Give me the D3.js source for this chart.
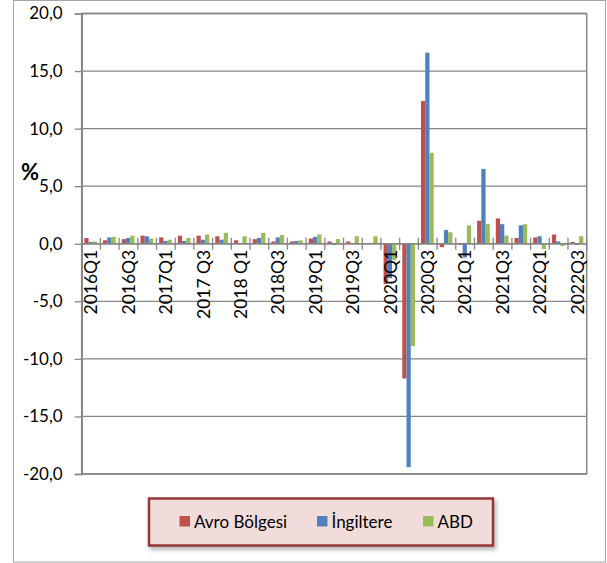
<!DOCTYPE html>
<html>
<head>
<meta charset="utf-8">
<script src="https://cdn.jsdelivr.net/npm/d3@7"></script>
<style>
  html, body { margin: 0; padding: 0; background: #fff; }
  svg { display: block; font-family: Lato, "Noto Sans", sans-serif; }
</style>
</head>
<body>
<svg id="chart" width="607" height="563"></svg>
<script>
// ---- data ----
const categories = ["2016Q1","2016Q2","2016Q3","2016Q4","2017Q1","2017Q2","2017 Q3","2017 Q4","2018 Q1","2018Q2","2018Q3","2018Q4","2019Q1","2019Q2","2019Q3","2019Q4","2020Q1","2020Q2","2020Q3","2020Q4","2021Q1","2021Q2","2021Q3","2021Q4","2022Q1","2022Q2","2022Q3"];
const tickLabels = ["2016Q1","2016Q3","2017Q1","2017 Q3","2018 Q1","2018Q3","2019Q1","2019Q3","2020Q1","2020Q3","2021Q1","2021Q3","2022Q1","2022Q3"];
const seriesNames = ["Avro Bölgesi","İngiltere","ABD"];
const avroBolgesi = [0.5,0.3,0.4,0.7,0.55,0.7,0.7,0.65,0.3,0.4,0.2,0.2,0.45,0.2,0.2,0.05,-3.5,-11.7,12.4,-0.3,-0.1,2.0,2.2,0.5,0.55,0.8,0.15];
const ingiltere   = [0.15,0.55,0.5,0.65,0.25,0.25,0.35,0.35,0.05,0.5,0.55,0.25,0.6,-0.1,0.0,0.0,-3.0,-19.4,16.6,1.2,-1.2,6.5,1.7,1.6,0.65,0.2,-0.1];
const abd         = [0.2,0.6,0.7,0.45,0.35,0.5,0.8,0.95,0.65,0.95,0.75,0.3,0.8,0.4,0.65,0.65,-1.4,-8.9,7.9,1.0,1.6,1.7,0.7,1.7,-0.45,-0.2,0.65];
const yTicks = [-20,-15,-10,-5,0,5,10,15,20];
const colors = ["#c0504d","#4f81bd","#9bbb59"];

const seriesValues = [avroBolgesi, ingiltere, abd];
const rows = categories.map((c, i) => ({cat: c, vals: seriesValues.map(s => s[i])}));

const svg = d3.select("#chart");
const plot = {left: 81.7, right: 586.7, top: 13.5, bottom: 474};

// outer chart frame
svg.append("rect").attr("x", 13.5).attr("y", 0.5).attr("width", 592).attr("height", 561.5)
  .attr("fill", "#fff").attr("stroke", "#a6a6a6").attr("stroke-width", 1);

const x0 = d3.scaleBand().domain(categories).range([plot.left, plot.right]).padding(0);
const x1 = d3.scaleBand().domain(seriesNames)
  .range([x0.bandwidth() * 0.14, x0.bandwidth() * 0.82]).padding(0);
const y = d3.scaleLinear().domain([-20, 20]).range([plot.bottom, plot.top]);

const gridColor = "#868686";

// gridlines
svg.append("g").selectAll("line").data(yTicks).join("line")
  .attr("x1", plot.left).attr("x2", plot.right)
  .attr("y1", d => y(d)).attr("y2", d => y(d))
  .attr("stroke", gridColor).attr("stroke-width", 1.3);

// plot border
svg.append("rect").attr("x", plot.left).attr("y", plot.top)
  .attr("width", plot.right - plot.left).attr("height", plot.bottom - plot.top)
  .attr("fill", "none").attr("stroke", gridColor).attr("stroke-width", 1.5);

// bars
const groups = svg.append("g").selectAll("g").data(rows).join("g")
  .attr("transform", d => `translate(${x0(d.cat)},0)`);
groups.selectAll("rect").data(d => d.vals.map((v, k) => ({name: seriesNames[k], v, k}))).join("rect")
  .attr("x", d => x1(d.name))
  .attr("width", x1.bandwidth())
  .attr("y", d => y(Math.max(0, d.v)))
  .attr("height", d => Math.abs(y(d.v) - y(0)))
  .attr("fill", d => colors[d.k]);

// y axis
const yAxis = svg.append("g").attr("transform", `translate(${plot.left},0)`)
  .call(d3.axisLeft(y).tickValues(yTicks).tickSize(7).tickPadding(12)
    .tickFormat(d => d.toFixed(1).replace(".", ",")));
yAxis.select(".domain").attr("stroke", gridColor).attr("stroke-width", 1.5);
yAxis.selectAll(".tick line").attr("stroke", gridColor).attr("stroke-width", 1.3);
yAxis.selectAll("text").attr("font-size", 17).attr("fill", "#000")
  .attr("font-family", "Lato, sans-serif");

// x axis at zero
const xg = svg.append("g").attr("transform", `translate(0,${y(0)})`);
xg.append("line").attr("x1", plot.left).attr("x2", plot.right)
  .attr("stroke", gridColor).attr("stroke-width", 1.5);
const boundaries = categories.map(c => x0(c)).concat([plot.right]);
xg.selectAll("line.tk").data(boundaries).join("line").attr("class", "tk")
  .attr("x1", d => d).attr("x2", d => d).attr("y1", -6).attr("y2", 6)
  .attr("stroke", gridColor).attr("stroke-width", 1.3);
const xAxis = xg.append("g")
  .call(d3.axisBottom(x0).tickValues(tickLabels).tickSize(0).tickSizeOuter(0));
xAxis.select(".domain").remove();
xAxis.selectAll("text")
  .attr("transform", "rotate(-90)")
  .attr("text-anchor", "end")
  .attr("x", -6).attr("y", 0).attr("dy", "0.36em")
  .attr("font-size", 17.5).attr("fill", "#000")
  .attr("font-family", "Lato, sans-serif");

// % label
svg.append("text").attr("x", 21).attr("y", 180).text("%")
  .attr("font-size", 22).attr("font-weight", "bold").attr("fill", "#000");

// legend
const defs = svg.append("defs");
const f = defs.append("filter").attr("id", "sh").attr("x", "-10%").attr("y", "-20%").attr("width", "130%").attr("height", "160%");
f.append("feDropShadow").attr("dx", 2).attr("dy", 3).attr("stdDeviation", 2)
  .attr("flood-color", "#000").attr("flood-opacity", 0.3);
const lg = svg.append("g");
lg.append("rect").attr("x", 149).attr("y", 498.5).attr("width", 344).attr("height", 47)
  .attr("fill", "#f2dcdb").attr("stroke", "#953735").attr("stroke-width", 2.5)
  .attr("filter", "url(#sh)");
const legendX = [179.5, 317, 423];
const items = lg.selectAll("g.it").data(seriesNames).join("g").attr("class", "it")
  .attr("transform", (d, i) => `translate(${legendX[i]},516)`);
items.append("rect").attr("width", 10.5).attr("height", 10.5).attr("fill", (d, i) => colors[i]);
items.append("text").attr("x", 14.5).attr("y", 12).text(d => d)
  .attr("font-size", 17).attr("fill", "#000");
</script>
</body>
</html>
